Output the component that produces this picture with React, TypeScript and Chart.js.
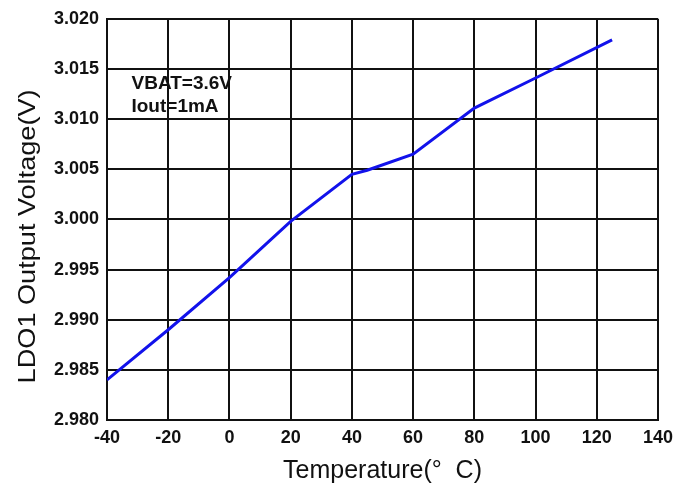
import React, { useEffect, useRef } from "react";
import { Chart, registerables } from "chart.js";

Chart.register(...registerables);

const temperatures = [-40, -20, 0, 20, 40, 45, 60, 80, 100, 125];
const voltages = [2.984, 2.989, 2.9942, 2.9998, 3.0045, 3.0049, 3.0065, 3.0111, 3.0141, 3.0179];

const xMin = -40;
const xMax = 140;
const xStep = 20;
const yMin = 2.98;
const yMax = 3.02;
const yStep = 0.005;

const xTitle = "Temperature(°  C)";
const yTitle = "LDO1 Output Voltage(V)";
const noteLines = ["VBAT=3.6V", "Iout=1mA"];
const noteX = -32;
const noteYs = [3.0135, 3.0112];

const FONT = "Arial, 'Liberation Sans', sans-serif";

const notePlugin = {
  id: "notePlugin",
  afterDatasetsDraw(chart: any) {
    const { ctx, scales, chartArea } = chart;
    ctx.save();
    ctx.font = `bold 19px ${FONT}`;
    ctx.fillStyle = "#111";
    ctx.textAlign = "left";
    ctx.textBaseline = "middle";
    noteLines.forEach((t, i) => {
      ctx.fillText(t, scales.x.getPixelForValue(noteX), scales.y.getPixelForValue(noteYs[i]));
    });
    ctx.restore();

    // y-axis title (slightly stretched along its length, as in the reference)
    ctx.save();
    ctx.font = `24px ${FONT}`;
    ctx.fillStyle = "#111";
    ctx.textAlign = "center";
    ctx.textBaseline = "middle";
    ctx.translate(scales.y.left + 28, (chartArea.top + chartArea.bottom) / 2 + 17);
    ctx.rotate(-Math.PI / 2);
    ctx.scale(1.13, 1);
    ctx.fillText(yTitle, 0, 0);
    ctx.restore();
  },
};

export default function App() {
  const ref = useRef<HTMLCanvasElement>(null);
  useEffect(() => {
    if (!ref.current) return;
    const chart = new Chart(ref.current, {
      type: "line",
      data: {
        datasets: [
          {
            data: temperatures.map((t, i) => ({ x: t, y: voltages[i] })),
            borderColor: "rgb(18,18,235)",
            borderWidth: 3,
            pointRadius: 0,
            tension: 0,
            fill: false,
          },
        ],
      },
      options: {
        animation: false,
        responsive: false,
        maintainAspectRatio: false,
        layout: { padding: { top: 18, right: 34, bottom: 0, left: 0 } },
        plugins: { legend: { display: false }, tooltip: { enabled: false } },
        scales: {
          x: {
            type: "linear",
            min: xMin,
            max: xMax,
            afterFit: (s: any) => {
              s.height = 73;
            },
            ticks: {
              stepSize: xStep,
              color: "#111",
              font: { family: FONT, size: 18, weight: "bold" },
              padding: 7,
              maxRotation: 0,
            },
            grid: { color: "#111", lineWidth: 2, drawTicks: false },
            border: { color: "#111", width: 2 },
            title: {
              display: true,
              text: xTitle,
              color: "#111",
              font: { family: FONT, size: 25 },
              padding: { top: 0, bottom: 7 },
            },
          },
          y: {
            type: "linear",
            min: yMin,
            max: yMax,
            afterFit: (s: any) => {
              s.width = 107;
            },
            ticks: {
              stepSize: yStep,
              color: "#111",
              font: { family: FONT, size: 18, weight: "bold" },
              padding: 8,
              callback: (v: any) => Number(v).toFixed(3),
            },
            grid: { color: "#111", lineWidth: 2, drawTicks: false },
            border: { color: "#111", width: 2 },
            title: { display: false, text: yTitle },
          },
        },
      },
      plugins: [notePlugin],
    });
    return () => chart.destroy();
  }, []);
  return (
    <div style={{ position: "absolute", left: 0, top: 0, width: 692, height: 493, background: "#fff" }}>
      <canvas ref={ref} width={692} height={493} style={{ width: 692, height: 493 }} />
    </div>
  );
}
